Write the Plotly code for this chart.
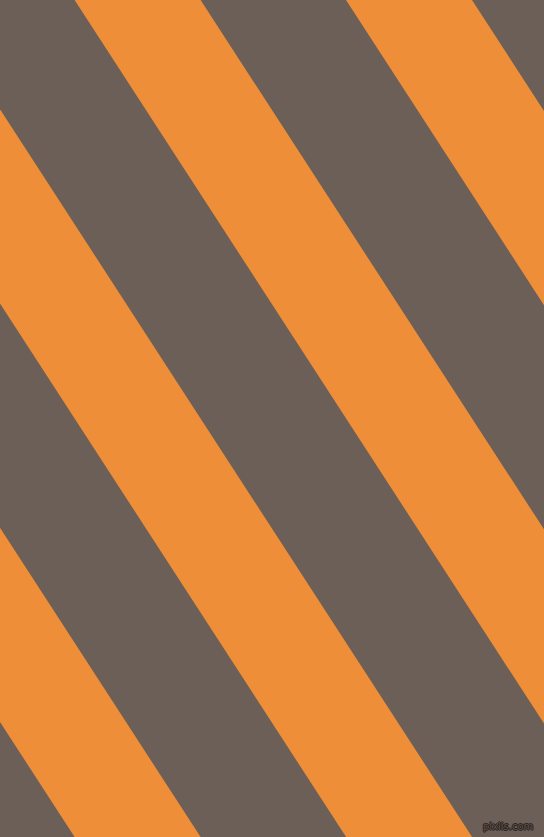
import plotly.graph_objects as go

W, H = 544, 837

# x where each orange stripe's left edge meets the top edge (y=0)
stripe_starts = [-468.4, -196.9, 74.6, 346.0, 617.5]
stripe_width = 126.0          # horizontal width of an orange stripe
drop_per_px = 1.5414          # stripes fall 1.54 px for every px to the right

gray = '#6B5F57'
orange = '#EF8E38'

fig = go.Figure()

run = H / drop_per_px
for c in stripe_starts:
    xs = [c, c + stripe_width, c + stripe_width + run, c + run, c]
    ys = [0, 0, H, H, 0]
    fig.add_trace(go.Scatter(x=xs, y=ys, mode='lines', fill='toself',
                             fillcolor=orange, line=dict(width=0, color=orange),
                             hoverinfo='skip', showlegend=False))

# small watermark, dark outlined text
fig.add_annotation(x=535, y=826, text='pixlis.com', showarrow=False,
                   xanchor='right', yanchor='middle',
                   font=dict(family='DejaVu Sans', size=10, color='#5a4f48',
                             shadow='1px 0 0 #2a221e, -1px 0 0 #2a221e, 0 1px 0 #2a221e, 0 -1px 0 #2a221e'))

fig.update_xaxes(range=[0, W], visible=False, fixedrange=True)
fig.update_yaxes(range=[H, 0], visible=False, fixedrange=True)
fig.update_layout(
    width=W, height=H,
    margin=dict(l=0, r=0, t=0, b=0),
    plot_bgcolor=gray, paper_bgcolor=gray,
)

fig.write_html("out.html", config={'displayModeBar': False},
               post_script="document.body.style.margin='0';")
